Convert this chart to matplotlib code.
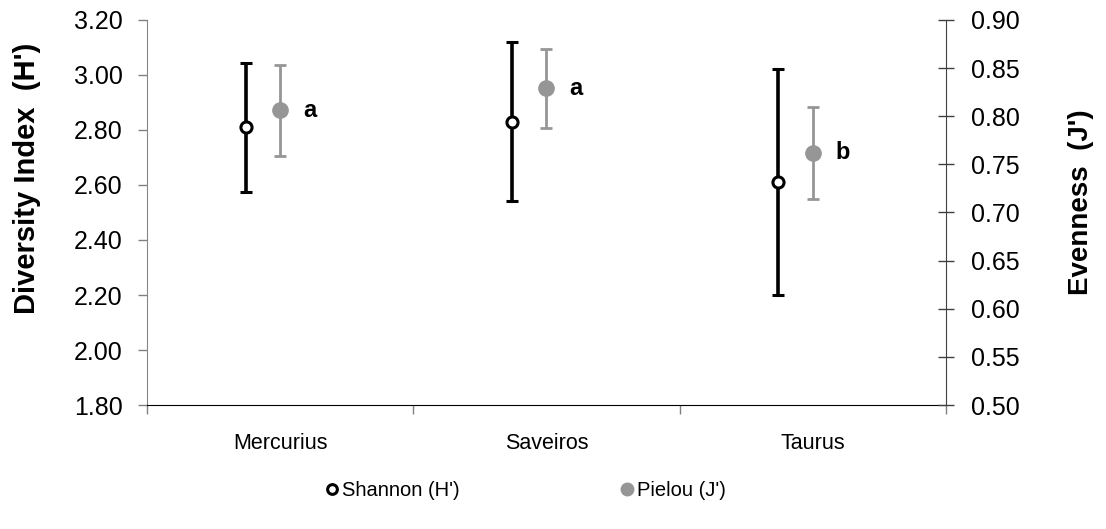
import matplotlib
matplotlib.use("Agg")
import matplotlib.pyplot as plt
import numpy as np
from matplotlib.lines import Line2D

plt.rcParams["font.family"] = ["Liberation Sans", "DejaVu Sans"]

sites = ["Mercurius", "Saveiros", "Taurus"]
shannon = [2.81, 2.83, 2.61]
shannon_err = [0.235, 0.29, 0.41]
pielou = [0.806, 0.829, 0.762]
pielou_err = [0.047, 0.041, 0.048]
letters = ["a", "a", "b"]

GRAY = "#969696"

fig = plt.figure(figsize=(11.06, 5.29), dpi=100)
ax = fig.add_axes([0.1329, 0.2344, 0.7224, 0.7278])
ax2 = ax.twinx()

x = np.arange(len(sites))
ax.errorbar(x - 0.13, shannon, yerr=shannon_err, fmt="o", color="black",
            ecolor="black", elinewidth=2.6, capsize=4.5, capthick=2.6,
            ms=8, mfc="white", mec="black", mew=2.2, zorder=3)
ax2.errorbar(x, pielou, yerr=pielou_err, fmt="o", color=GRAY,
             ecolor=GRAY, elinewidth=2.0, capsize=4.5, capthick=2.0,
             ms=11, mfc=GRAY, mec=GRAY, zorder=3)
for xi, yi, lab in zip(x, pielou, letters):
    ax2.text(xi + 0.085, yi, lab, fontsize=17, fontweight="bold",
             ha="left", va="center")

ax.set_xlim(-0.5, 2.5)
ax.set_ylim(1.8, 3.2)
hticks = np.arange(1.8, 3.21, 0.2)
ax.set_yticks(hticks)
ax.set_yticklabels([f"{v:.2f}" for v in hticks])
ax2.set_ylim(0.5, 0.9)
jticks = np.arange(0.5, 0.901, 0.05)
ax2.set_yticks(jticks)
ax2.set_yticklabels([f"{v:.2f}" for v in jticks])

# category labels centred, ticks on the boundaries
ax.set_xticks([-0.5, 0.5, 1.5, 2.5])
ax.set_xticklabels([])
ax.set_xticks(x, minor=True)
ax.set_xticklabels(sites, minor=True, fontsize=15.5)
ax.tick_params(axis="x", which="minor", length=0, pad=20)
ax.tick_params(axis="x", which="major", length=6.5, width=1, color="#808080")

ax.tick_params(axis="y", labelsize=18, length=6.5, width=1, color="#808080", pad=11)
ax2.tick_params(axis="y", labelsize=18, length=12, width=1, direction="inout",
                color="#404040", pad=12)

ax.spines["top"].set_visible(False)
ax2.spines["top"].set_visible(False)
ax.spines["left"].set_color("#868686")
ax2.spines["left"].set_visible(False)
ax2.spines["right"].set_color("#404040")
ax.spines["right"].set_visible(False)
ax2.spines["bottom"].set_visible(False)
ax.spines["bottom"].set_color("black")

fig.text(27 / 1106, 0.662, "Diversity Index  (H')", fontsize=21,
         fontweight="bold", rotation=90, ha="center", va="center")
fig.text(1081 / 1106, 0.618, "Evenness  (J')", fontsize=20,
         fontweight="bold", rotation=90, ha="center", va="center")

handles = [
    Line2D([], [], ls="none", marker="o", ms=7, mfc="white", mec="black", mew=2.2),
    Line2D([], [], ls="none", marker="o", ms=9, mfc=GRAY, mec=GRAY),
]
fig.legend(handles, ["Shannon (H')", "Pielou (J')"], loc="center",
           bbox_to_anchor=(0.474, 0.073), ncol=2, frameon=False, fontsize=14.5,
           handletextpad=0.0, columnspacing=7.8, handlelength=1.0)

fig.savefig("out.png", dpi=100)
